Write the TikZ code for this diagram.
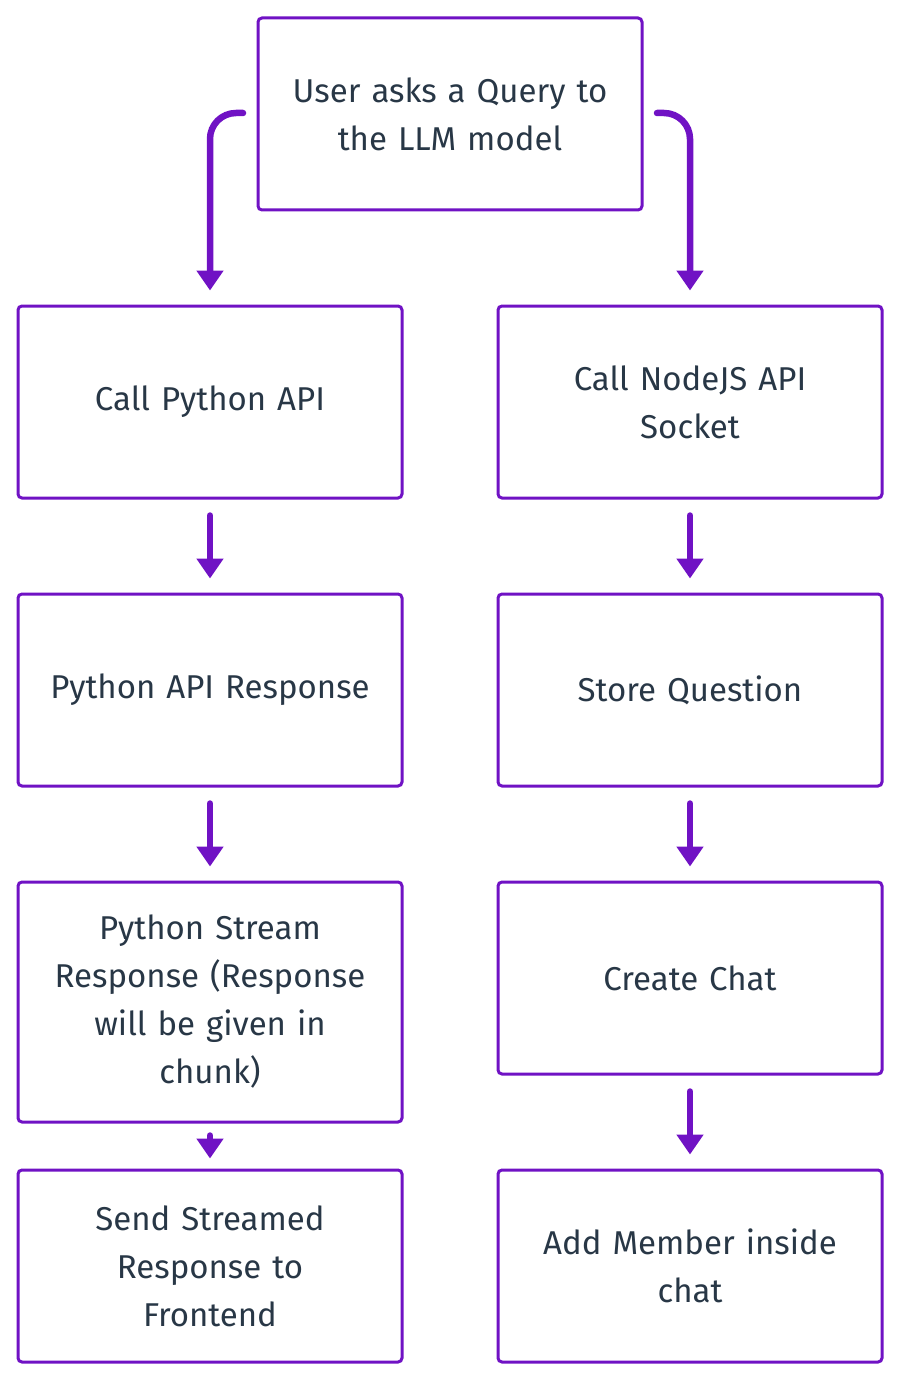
\documentclass[tikz,border=0pt]{standalone}
\usepackage{fontspec}
\setmainfont{Fira Sans}
\usetikzlibrary{arrows.meta}
\definecolor{purp}{RGB}{112,18,196}
\definecolor{txt}{RGB}{40,55,70}
\begin{document}
\begin{tikzpicture}[x=1pt,y=-1pt,
  box/.style={draw=purp,line width=3pt,rounded corners=4pt,minimum width=384pt,
    text width=360pt,align=center,text=txt,inner sep=0pt,
    font=\fontsize{33}{48}\selectfont},
  conn/.style={draw=purp,line width=6.5pt,line cap=round,
    -{Triangle[width=26pt,length=20pt]}}]
\useasboundingbox (0,0) rectangle (900,1380);
\node[box,minimum height=192pt] (top) at (450,114) {User asks a Query to\\the LLM model};
\node[box,minimum height=192pt] (py1) at (210,402) {Call Python API};
\node[box,minimum height=192pt] (js1) at (690,402) {Call NodeJS API\\Socket};
\node[box,minimum height=192pt] (py2) at (210,690) {Python API Response};
\node[box,minimum height=192pt] (js2) at (690,690) {Store Question};
\node[box,minimum height=240pt] (py3) at (210,1002) {Python Stream\\Response (Response\\will be given in\\chunk)};
\node[box,minimum height=192pt] (js3) at (690,978) {Create Chat};
\node[box,minimum height=192pt] (py4) at (210,1266) {Send Streamed\\Response to\\Frontend};
\node[box,minimum height=192pt] (js4) at (690,1266) {Add Member inside\\chat};
\coordinate (tl) at (243,113);
\coordinate (tr) at (657,113);
\draw[conn,rounded corners=26pt] (tl) -- (210,113) -- ([yshift=14pt]py1.north);
\draw[conn,rounded corners=26pt] (tr) -- (690,113) -- ([yshift=14pt]js1.north);
\draw[conn] ([yshift=-16pt]py1.south) -- ([yshift=14pt]py2.north);
\draw[conn] ([yshift=-16pt]js1.south) -- ([yshift=14pt]js2.north);
\draw[conn] ([yshift=-16pt]py2.south) -- ([yshift=14pt]py3.north);
\draw[conn] ([yshift=-16pt]js2.south) -- ([yshift=14pt]js3.north);
\draw[conn] ([yshift=-12pt]py3.south) -- ([yshift=10pt]py4.north);
\draw[conn] ([yshift=-16pt]js3.south) -- ([yshift=14pt]js4.north);
\end{tikzpicture}
\end{document}
